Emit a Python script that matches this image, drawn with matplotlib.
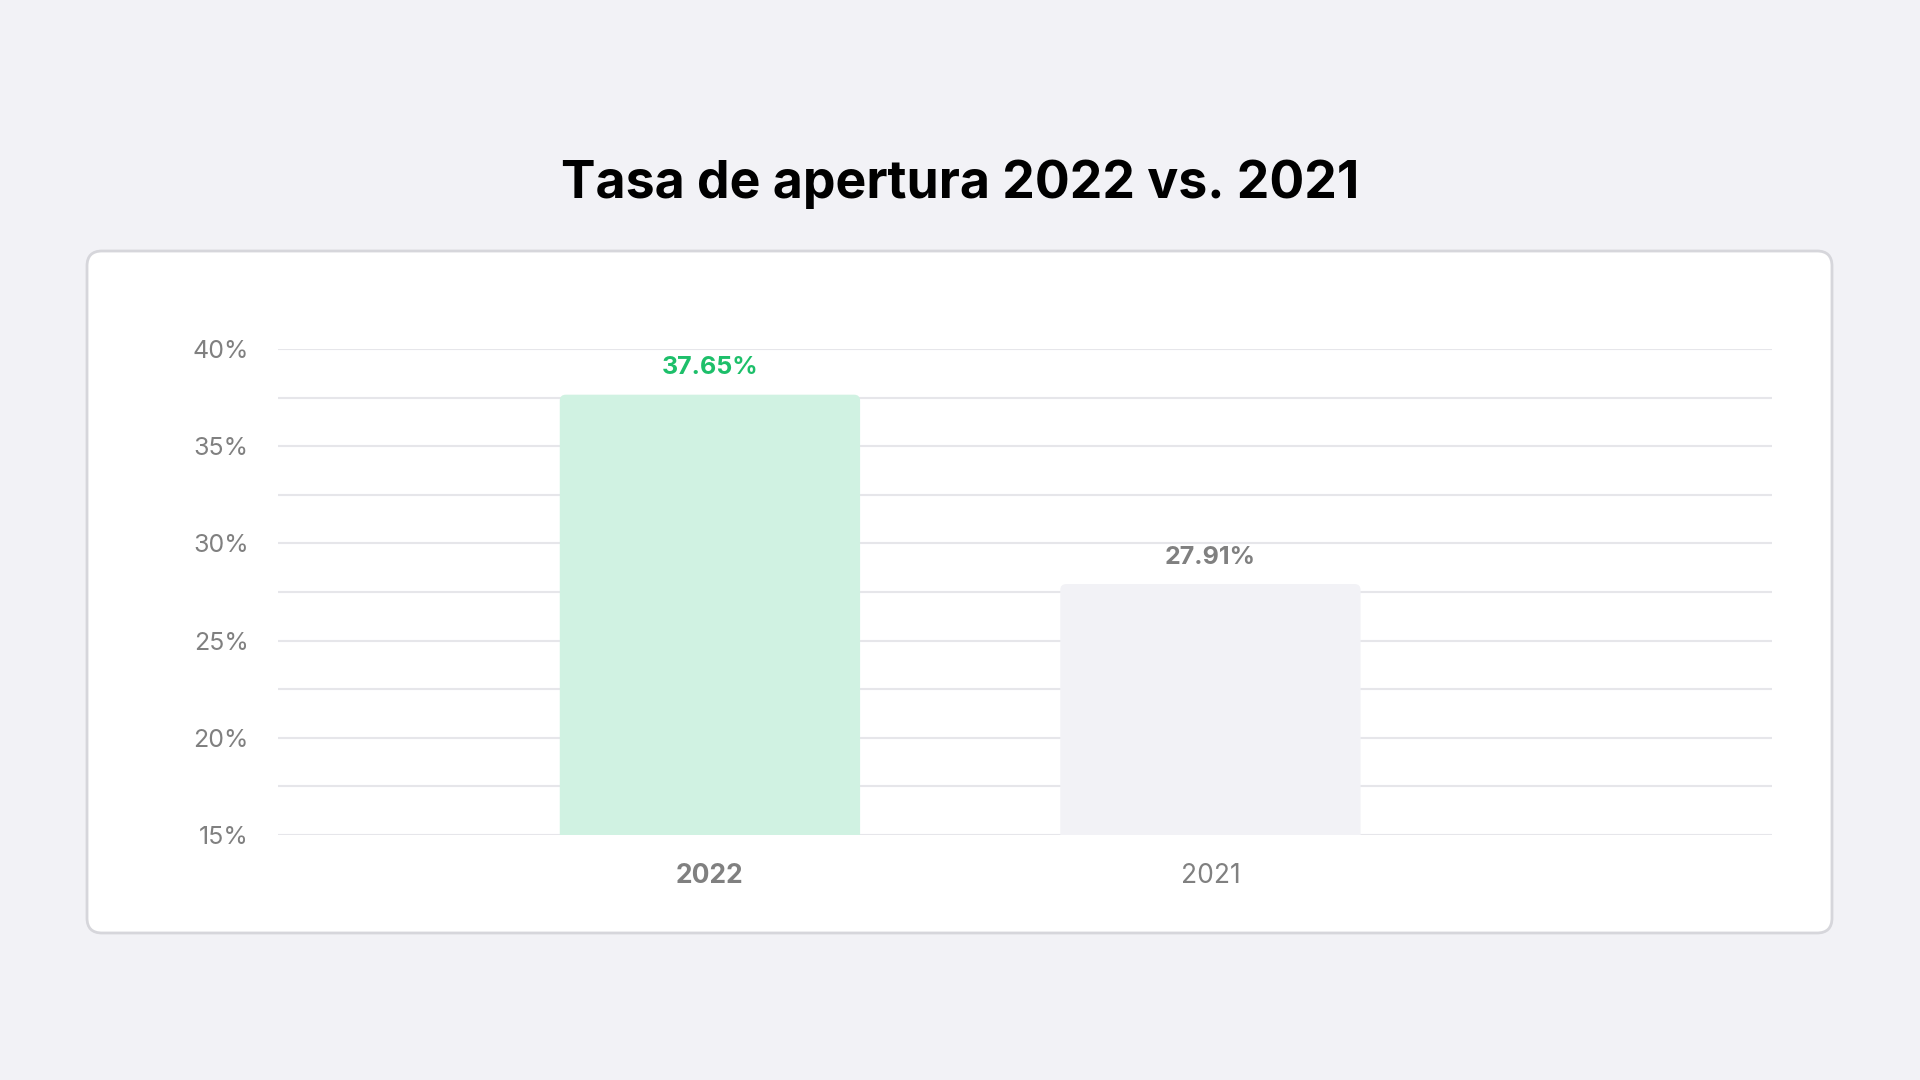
import matplotlib
matplotlib.use("Agg")
import matplotlib.pyplot as plt
from matplotlib.patches import FancyBboxPatch
from matplotlib.ticker import FixedLocator

# ---- data ----
categories = ["2022", "2021"]
values = [37.65, 27.91]
value_labels = ["37.65%", "27.91%"]
yticks = [15, 20, 25, 30, 35, 40]
ytick_labels = ["15%", "20%", "25%", "30%", "35%", "40%"]
minor_ticks = [17.5, 22.5, 27.5, 32.5, 37.5]
title = "Tasa de apertura 2022 vs. 2021"

# ---- style ----
BG = "#f2f2f6"
bar_colors = ["#d0f2e2", "#f2f2f6"]
label_colors = ["#1dbf6a", "#808080"]
xlabel_weights = ["bold", "normal"]
GRID = "#e6e6ea"
TICK = "#808080"
FONT = ["Inter", "DejaVu Sans"]

plt.rcParams["font.family"] = FONT

fig = plt.figure(figsize=(19.2, 10.8), dpi=100, facecolor=BG)

# card
W, H = 1920, 1080
card = FancyBboxPatch((87 / W, 1 - 933 / H), (1832 - 87) / W, (933 - 251) / H,
                      boxstyle="round,pad=0,rounding_size=%f" % (15 / W),
                      mutation_aspect=W / H, transform=fig.transFigure,
                      facecolor="white", edgecolor="#d6d6db", linewidth=2, zorder=-5)
fig.patches.append(card)

fig.text(0.5, 1 - 184 / H, title, ha="center", va="center", fontsize=37.3,
         fontweight="bold", color="#000000")

ax = fig.add_axes([278 / W, 1 - 835 / H, (1772 - 278) / W, (835 - 349) / H])
ax.set_facecolor("none")
ax.set_zorder(2)
ax.set_ylim(15, 40)
ax.set_xlim(-0.863, 2.122)

x = list(range(len(categories)))
bw = 0.6
bars = ax.bar(x, values, width=bw, color=bar_colors, zorder=2)

# replace bars with rounded-top versions
x_scale = ((1772 - 278)) / (2.122 + 0.863)  # px per x unit
y_scale = (835 - 349) / 25.0                 # px per y unit
r_px = 6
for b, c in zip(bars, bar_colors):
    b.set_visible(False)
    x0, w = b.get_x(), b.get_width()
    top = b.get_y() + b.get_height()
    bottom = 15 - 2
    p = FancyBboxPatch((x0, bottom), w, top - bottom,
                       boxstyle="round,pad=0,rounding_size=%f" % (r_px / x_scale),
                       mutation_aspect=x_scale / y_scale,
                       facecolor=c, edgecolor="none", zorder=2, clip_on=True)
    ax.add_patch(p)

for xi, v, lab, col in zip(x, values, value_labels, label_colors):
    ax.annotate(lab, (xi, v), xytext=(0, 11), textcoords="offset points",
                ha="center", va="bottom", fontsize=18, fontweight="bold", color=col)

# grid
ax.yaxis.set_major_locator(FixedLocator(yticks))
ax.yaxis.set_minor_locator(FixedLocator(minor_ticks))
ax.set_yticklabels(ytick_labels)
ax.grid(axis="y", which="both", color=GRID, linewidth=1.5, zorder=1)
ax.set_axisbelow(True)
for s in ax.spines.values():
    s.set_visible(False)
ax.tick_params(axis="y", which="both", length=0, pad=21, labelsize=18, labelcolor=TICK)
ax.tick_params(axis="x", length=0, pad=20, labelsize=19, labelcolor=TICK)
ax.set_xticks(x)
ax.set_xticklabels(categories)
for t, wgt in zip(ax.get_xticklabels(), xlabel_weights):
    t.set_fontweight(wgt)

fig.savefig("out.png", dpi=100, facecolor=BG)
